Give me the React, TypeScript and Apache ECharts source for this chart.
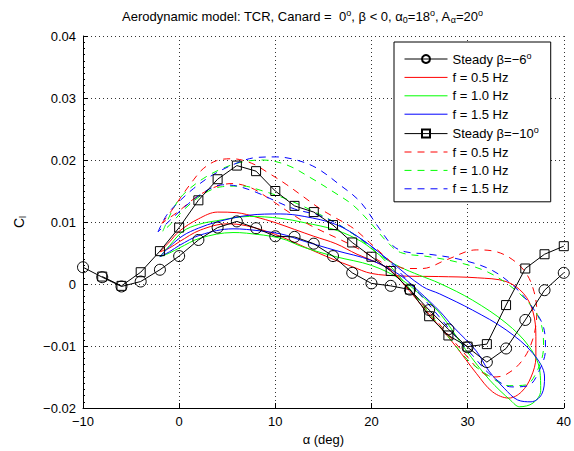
import React, { useEffect, useRef } from 'react';
import * as echarts from 'echarts';

const FONT = '"Liberation Sans", Arial, Helvetica, sans-serif';

// Steady data
const alphaSteady6 = [-10, -8, -6, -4, -2, 0, 2, 4, 6, 8, 10, 12, 14, 16, 18, 20, 22, 24, 26, 28, 30, 32, 34, 36, 38, 40];
const clSteady6 = [0.0027, 0.0011, -0.0004, 0.0004, 0.0023, 0.0045, 0.0071, 0.0091, 0.0101, 0.009, 0.0077, 0.0076, 0.0065, 0.0045, 0.0018, 0.0001, -0.0003, -0.0009, -0.0042, -0.0073, -0.0102, -0.0126, -0.0104, -0.0058, -0.001, 0.0018];
const alphaSteady10 = [-8, -6, -4, -2, 0, 2, 4, 6, 8, 10, 12, 14, 16, 18, 20, 22, 24, 26, 28, 30, 32, 34, 36, 38, 40];
const clSteady10 = [0.0012, -0.0003, 0.0019, 0.0053, 0.0091, 0.0135, 0.0169, 0.0191, 0.0182, 0.015, 0.0126, 0.0116, 0.0095, 0.0067, 0.0044, 0.0021, -0.0009, -0.0052, -0.0083, -0.0101, -0.0097, -0.0034, 0.0025, 0.0048, 0.0061];

// Dynamic loops, beta = -6 deg (solid)
const loopRed6: number[][] = [
  [-2, 0.0052], [-1, 0.0068], [0, 0.0085], [2, 0.0105], [4, 0.0116], [6, 0.0115], [8, 0.0108], [10, 0.0099],
  [12, 0.0088], [14, 0.0077], [16.3, 0.0065], [18.5, 0.0048], [20.5, 0.0035], [22, 0.0022], [24, -0.0012], [25.5, -0.004],
  [27.1, -0.0069], [28.8, -0.0101], [30.9, -0.0144], [32.6, -0.0174], [34.3, -0.0184], [35.6, -0.0174], [36.6, -0.015],
  [37.1, -0.0118], [37.1, -0.0085], [36.8, -0.0045], [35.8, -0.0015], [34, 0.0004], [31, 0.001], [27, 0.0012],
  [23, 0.0013], [20, 0.0017], [18, 0.0028], [16, 0.004], [13, 0.006], [10, 0.008], [7, 0.0094], [5, 0.0097],
  [2.2, 0.0087], [0, 0.0068], [-1, 0.0058], [-2, 0.0052],
];
const loopGreen6: number[][] = [
  [-2, 0.0044], [-1, 0.0062], [0.4, 0.0085], [2, 0.0096], [3.9, 0.0102], [7.3, 0.0109], [10.5, 0.0106], [13, 0.0099],
  [16.3, 0.0087], [19, 0.0068], [21, 0.0045], [22.9, 0.0028], [25, 0.0014], [27.1, 0.0001], [30.5, -0.0026],
  [34, -0.0063], [36.4, -0.0101], [37.5, -0.0139], [37.6, -0.0172], [36.8, -0.0192], [35.4, -0.0198], [34.5, -0.0188],
  [32.3, -0.0155], [29.8, -0.0106], [27.1, -0.0047], [25, -0.0016], [23, 0.0008], [20, 0.003], [16.3, 0.0044],
  [13, 0.0059], [10.5, 0.0074], [7, 0.0082], [5.6, 0.0083], [2.2, 0.0074], [0, 0.0058], [-1, 0.005], [-2, 0.0044],
];
const loopBlue6: number[][] = [
  [-2, 0.0044], [-1, 0.006], [0.4, 0.0078], [2, 0.009], [3.9, 0.01], [7.3, 0.0111], [10.5, 0.0113], [13, 0.0109],
  [16.3, 0.0096], [19, 0.0072], [22, 0.0036], [25.3, -0.0004], [27.1, -0.0016], [30.5, -0.0042], [34, -0.0074],
  [36.8, -0.0112], [38, -0.015], [37.7, -0.0178], [36.6, -0.019], [35.2, -0.0187], [33.8, -0.0168], [32.2, -0.014],
  [30.9, -0.0108], [28.5, -0.0069], [27.1, -0.0044], [25, -0.0013], [22.9, 0.0015], [20, 0.0038], [16.3, 0.0054],
  [13, 0.0069], [10.5, 0.0081], [7, 0.0088], [5.6, 0.0089], [2.2, 0.0079], [0, 0.0062], [-1, 0.0052], [-2, 0.0044],
];

// Dynamic loops, beta = -10 deg (dashed)
const loopRed10: number[][] = [
  [-1.8, 0.0098], [-0.8, 0.0118], [0.4, 0.0145], [1.5, 0.0168], [2.5, 0.0186], [3.9, 0.0199], [5.5, 0.0202],
  [7.5, 0.0195], [9.4, 0.0178], [11.2, 0.016], [12.9, 0.0141], [14.6, 0.0122], [16, 0.0109], [18.1, 0.009],
  [19.8, 0.0067], [21, 0.005], [22.2, 0.0034], [23.5, 0.0025], [25.3, 0.0025], [27.8, 0.0039], [30.9, 0.0055],
  [33, 0.0052], [34.7, 0.0039], [36.1, 0.0017], [36.9, -0.0012], [37.2, -0.0045], [36.8, -0.0088], [35.7, -0.0123],
  [34, -0.0146], [32.6, -0.015], [31.3, -0.014], [30, -0.0118], [28, -0.0082], [26, -0.0045], [24, -0.001],
  [22, 0.0024], [20, 0.0045], [18, 0.0062], [16.7, 0.0072], [13.6, 0.0095], [11.5, 0.0115], [9.5, 0.0136],
  [7.5, 0.0155], [5.5, 0.0162], [3.5, 0.0155], [1.5, 0.0137], [0, 0.0118], [-1.8, 0.0098],
];
const loopGreen10: number[][] = [
  [-1.7, 0.0085], [-0.6, 0.0122], [0.4, 0.0144], [2.5, 0.017], [4.6, 0.0187], [6.6, 0.0197], [8.7, 0.02],
  [11.2, 0.0192], [13.6, 0.0172], [16, 0.0149], [18.1, 0.0127], [20.1, 0.0095], [21.5, 0.007], [23, 0.0051],
  [26, 0.0044], [29, 0.0035], [32, 0.002], [34.5, -0.0004], [36.5, -0.0033], [37.6, -0.0062], [37.9, -0.01],
  [37.3, -0.0138], [36, -0.0163], [34.3, -0.0164], [32.2, -0.0148], [30, -0.0122], [28, -0.0085], [26, -0.0047],
  [24, -0.0008], [22, 0.0028], [20, 0.0058], [17, 0.0092], [14, 0.0117], [11, 0.0138], [8.5, 0.0151],
  [6.6, 0.0158], [4.5, 0.0157], [2.5, 0.0145], [0.5, 0.012], [-0.8, 0.0098], [-1.7, 0.0085],
];
const loopBlue10: number[][] = [
  [-2.2, 0.0084], [-1.3, 0.0111], [0, 0.0133], [1.5, 0.0154], [3.5, 0.0176], [6, 0.0195], [8, 0.0204],
  [10.1, 0.0205], [12.2, 0.02], [14.3, 0.0187], [16.7, 0.016], [18.8, 0.0133], [20.8, 0.009], [22.2, 0.0062],
  [23.5, 0.0052], [26, 0.0048], [29.1, 0.004], [32.3, 0.0024], [34.7, -0.0002], [36.6, -0.0035], [37.9, -0.007],
  [38.1, -0.0105], [37.5, -0.0138], [36.3, -0.0164], [34.6, -0.0166], [32.5, -0.0148], [30.5, -0.0115],
  [28.5, -0.008], [27, -0.0052], [25, -0.0016], [23, 0.0018], [21, 0.0048], [18, 0.0082], [15, 0.0108],
  [12, 0.0121], [10, 0.0134], [8, 0.0148], [6, 0.0158], [4.5, 0.016], [3, 0.0152], [1, 0.013], [-1, 0.0102],
  [-2.2, 0.0084],
];

const legendNames = ['s6', 'r6', 'g6', 'b6', 's10', 'r10', 'g10', 'b10'];
const legendLabels: Record<string, string> = {
  s6: 'Steady β=−6{sup|o}',
  r6: 'f = 0.5 Hz',
  g6: 'f = 1.0 Hz',
  b6: 'f = 1.5 Hz',
  s10: 'Steady β=−10{sup|o}',
  r10: 'f = 0.5 Hz',
  g10: 'f = 1.0 Hz',
  b10: 'f = 1.5 Hz',
};

const xTicks = { min: -10, max: 40, interval: 10 };
const yTicks = { min: -0.02, max: 0.04, interval: 0.01 };

const fmtNum = (v: number, digits: number) => {
  const r = Math.round(v * Math.pow(10, digits)) / Math.pow(10, digits);
  if (Math.abs(r) < 1e-12) return '0';
  const s = String(r);
  return s.replace('-', '−');
};

export default function App() {
  const ref = useRef<HTMLDivElement>(null);
  useEffect(() => {
    if (!ref.current) return;
    const chart = echarts.init(ref.current, undefined, { renderer: 'svg' });
    const supRich = {
      sup: { fontSize: 9, fontFamily: FONT, color: '#000', padding: [0, 0, 7, 0] },
      sub: { fontSize: 9, fontFamily: FONT, color: '#000', padding: [7, 0, 0, 0] },
    };
    const loopSeries = (name: string, data: number[][], color: string, dashed: boolean) => ({
      name,
      type: 'line',
      data,
      smooth: 0.35,
      showSymbol: false,
      symbol: 'none',
      lineStyle: { color, width: 1, type: dashed ? [7, 6] : 'solid' },
      itemStyle: { color: 'rgba(0,0,0,0)', borderColor: 'rgba(0,0,0,0)', borderWidth: 0 },
      z: 2,
    });
    const steadySeries = (name: string, xs: number[], ys: number[], symbol: string, size: number) => ({
      name,
      type: 'line',
      data: xs.map((x, i) => [x, ys[i]]),
      symbol,
      symbolSize: size,
      showAllSymbol: true,
      lineStyle: { color: '#000', width: 1 },
      itemStyle: { color: 'rgba(0,0,0,0)', borderColor: '#000', borderWidth: 1 },
      z: 3,
    });
    chart.setOption({
      animation: false,
      backgroundColor: '#fff',
      title: {
        text: 'Aerodynamic model: TCR, Canard =  0{sup|o}, β < 0, α{sub|0}=18{sup|o}, A{sub|α}=20{sup|o}',
        left: 117,
        top: 3,
        textStyle: { fontSize: 13, fontWeight: 'normal', fontFamily: FONT, color: '#000', rich: supRich },
      },
      grid: { left: 83, right: 9, top: 36, bottom: 43, containLabel: false },
      legend: {
        orient: 'vertical',
        left: 394,
        top: 42,
        data: legendNames,
        formatter: (n: string) => legendLabels[n],
        itemWidth: 43,
        itemHeight: 10,
        itemGap: 4.4,
        padding: [9, 12, 6, 10],
        borderColor: '#000',
        borderWidth: 1,
        backgroundColor: '#fff',
        selectedMode: false,
        lineStyle: { width: 1 },
        textStyle: { fontSize: 13, fontFamily: FONT, color: '#000', lineHeight: 14, rich: supRich },
      },
      xAxis: {
        type: 'value',
        min: xTicks.min,
        max: xTicks.max,
        interval: xTicks.interval,
        name: 'α (deg)',
        nameLocation: 'middle',
        nameGap: 23,
        nameTextStyle: { fontSize: 13, fontFamily: FONT, color: '#000' },
        axisLine: { show: true, onZero: false, lineStyle: { color: '#000', width: 1 } },
        axisTick: { show: true, inside: true, length: 5, lineStyle: { color: '#000' } },
        axisLabel: { fontSize: 13, fontFamily: FONT, color: '#000', margin: 7, formatter: (v: number) => fmtNum(v, 0) },
        splitLine: { show: true, lineStyle: { color: '#333', type: [1, 3], width: 1 } },
      },
      yAxis: {
        type: 'value',
        min: yTicks.min,
        max: yTicks.max,
        interval: yTicks.interval,
        name: 'C{sub|l}',
        nameLocation: 'middle',
        nameGap: 56,
        nameRotate: 90,
        nameTextStyle: { fontSize: 14, fontFamily: FONT, color: '#000', rich: supRich },
        axisLine: { show: true, onZero: false, lineStyle: { color: '#000', width: 1 } },
        axisTick: { show: true, inside: true, length: 5, lineStyle: { color: '#000' } },
        minorTick: { show: true, splitNumber: 10, length: 2, lineStyle: { color: '#000' } },
        axisLabel: { fontSize: 13, fontFamily: FONT, color: '#000', margin: 7, formatter: (v: number) => fmtNum(v, 2) },
        splitLine: { show: true, lineStyle: { color: '#333', type: [1, 3], width: 1 } },
      },
      series: [
        steadySeries('s6', alphaSteady6, clSteady6, 'circle', 11),
        loopSeries('r6', loopRed6, '#ff0000', false),
        loopSeries('g6', loopGreen6, '#00ff00', false),
        loopSeries('b6', loopBlue6, '#0000ff', false),
        steadySeries('s10', alphaSteady10, clSteady10, 'rect', 9),
        loopSeries('r10', loopRed10, '#ff0000', true),
        loopSeries('g10', loopGreen10, '#00ff00', true),
        loopSeries('b10', loopBlue10, '#0000ff', true),
      ],
    });
    return () => chart.dispose();
  }, []);
  return <div ref={ref} style={{ position: 'fixed', left: 0, top: 0, width: 574, height: 451 }} />;
}
